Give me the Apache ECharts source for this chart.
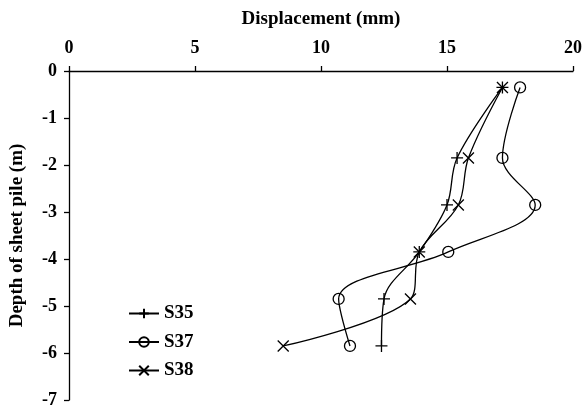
<!DOCTYPE html>
<html>
<head>
<meta charset="utf-8">
<script src="https://cdn.jsdelivr.net/npm/echarts@6/dist/echarts.min.js"></script>
<style>
html,body{margin:0;padding:0;background:#fff;}
#c{width:585px;height:409px;}
</style>
</head>
<body>
<div id="c"></div>
<script>
const depths = [-0.35, -1.85, -2.85, -3.85, -4.85, -5.85];
const s35 = [17.2, 15.4, 15.0, 13.9, 12.5, 12.4];
const s37 = [17.9, 17.2, 18.5, 15.05, 10.7, 11.15];
const s38 = [17.2, 15.85, 15.45, 13.9, 13.55, 8.5];
const seriesNames = ['S35', 'S37', 'S38'];
const xTicks = [0, 5, 10, 15, 20];
const yTicks = [0, -1, -2, -3, -4, -5, -6, -7];

const FONT = '"Liberation Serif", "Times New Roman", serif';
const plusPath = 'path://M0,5L10,5M5,0L5,10';
const xPath = 'path://M0,0L10,10M10,0L0,10';

function pairs(vals) { return vals.map((v, i) => [v, depths[i]]); }

function mk(name, vals, symbol, size) {
  return {
    name: name,
    type: 'line',
    data: pairs(vals),
    smooth: 0.35,
    symbol: symbol,
    symbolSize: size,
    showAllSymbol: true,
    lineStyle: { color: '#000', width: 1.3 },
    itemStyle: { color: 'rgba(0,0,0,0)', borderColor: '#000', borderWidth: 1.3 },
    emphasis: { disabled: true },
    animation: false
  };
}

const chart = echarts.init(document.getElementById('c'), null, { renderer: 'canvas' });
chart.setOption({
  backgroundColor: '#fff',
  animation: false,
  grid: { left: 69, right: 12, top: 71, bottom: 9, containLabel: false },
  xAxis: {
    type: 'value', position: 'top',
    min: xTicks[0], max: xTicks[xTicks.length - 1], interval: 5,
    name: 'Displacement (mm)', nameLocation: 'middle', nameGap: 42,
    nameTextStyle: { fontFamily: FONT, fontWeight: 'bold', fontSize: 19, color: '#000' },
    axisLine: { show: true, lineStyle: { color: '#000', width: 1.3 } },
    axisTick: { show: true, inside: false, length: 5, lineStyle: { color: '#000', width: 1.3 } },
    axisLabel: { fontFamily: FONT, fontWeight: 'bold', fontSize: 18, color: '#000', margin: 14 },
    splitLine: { show: false }
  },
  yAxis: {
    type: 'value',
    min: yTicks[yTicks.length - 1], max: yTicks[0], interval: 1,
    name: 'Depth of sheet pile (m)', nameLocation: 'middle', nameGap: 42,
    nameTextStyle: { fontFamily: FONT, fontWeight: 'bold', fontSize: 19, color: '#000' },
    axisLine: { show: true, onZero: false, lineStyle: { color: '#000', width: 1.3 } },
    axisTick: { show: true, inside: false, length: 5, lineStyle: { color: '#000', width: 1.3 } },
    axisLabel: { fontFamily: FONT, fontWeight: 'bold', fontSize: 18, color: '#000', margin: 12 },
    splitLine: { show: false }
  },
  legend: {
    data: seriesNames,
    orient: 'vertical',
    left: 123, top: 299,
    itemWidth: 30, itemHeight: 12, itemGap: 9.5,
    textStyle: { fontFamily: FONT, fontWeight: 'bold', fontSize: 19, color: '#000' },
    selectedMode: false
  },
  series: [
    mk(seriesNames[0], s35, plusPath, 12),
    mk(seriesNames[1], s37, 'circle', 11),
    mk(seriesNames[2], s38, xPath, 11)
  ]
});
</script>
</body>
</html>
